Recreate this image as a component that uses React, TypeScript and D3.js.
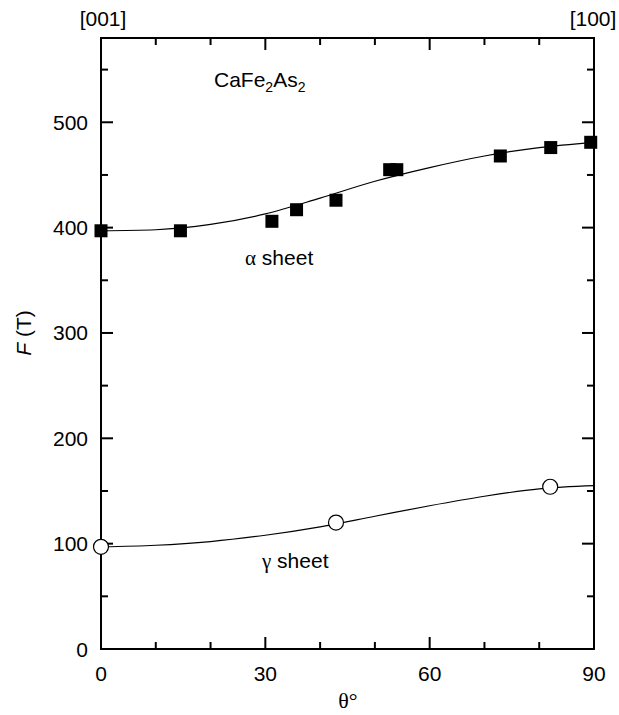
import * as d3 from "d3";
import { useEffect, useRef } from "react";

// measured points
const alphaTheta = [0, 14.5, 31.2, 35.7, 42.9, 52.7, 54.0, 72.9, 82.1, 89.4];
const alphaF = [397, 397, 406, 417, 426, 455, 455, 468, 476, 481];
const gammaTheta = [0, 42.9, 82.0];
const gammaF = [97, 120, 154];

// fit lines
const alphaFitTheta = [0, 10, 20, 30, 40, 50, 60, 70, 80, 90];
const alphaFitF = [397, 398, 403, 413, 428, 444, 457, 468, 476, 481];
const gammaFitTheta = [0, 10, 20, 30, 40, 50, 60, 70, 80, 90];
const gammaFitF = [97, 98.5, 102, 108, 116, 126, 136, 145, 152, 155];

const xTicks = [0, 30, 60, 90];
const yTicks = [0, 100, 200, 300, 400, 500];

function App() {
  const ref = useRef<SVGSVGElement>(null);

  useEffect(() => {
    const svg = d3.select(ref.current);
    svg.selectAll("*").remove();

    const left = 101, right = 594, top = 38, bottom = 649;
    const x = d3.scaleLinear().domain([0, 90]).range([left, right]);
    const y = d3.scaleLinear().domain([0, 580]).range([bottom, top]);
    const font = "Arial, 'Liberation Sans', sans-serif";
    const serif = "'Liberation Serif', 'Times New Roman', serif";
    const fs = 21;

    const g = svg.append("g");

    // minor + major ticks on all four sides, pointing inward
    const xMinor = d3.range(0, 91, 10);
    const yMinor = d3.range(0, 580, 50);
    xMinor.forEach(t => {
      const len = t % 30 === 0 ? 12 : 7;
      g.append("line").attr("x1", x(t)).attr("x2", x(t)).attr("y1", bottom).attr("y2", bottom - len)
        .attr("stroke", "black").attr("stroke-width", 2);
      g.append("line").attr("x1", x(t)).attr("x2", x(t)).attr("y1", top).attr("y2", top + len)
        .attr("stroke", "black").attr("stroke-width", 2);
    });
    yMinor.forEach(t => {
      const len = t % 100 === 0 ? 12 : 7;
      g.append("line").attr("x1", left).attr("x2", left + len).attr("y1", y(t)).attr("y2", y(t))
        .attr("stroke", "black").attr("stroke-width", 2);
      g.append("line").attr("x1", right).attr("x2", right - len).attr("y1", y(t)).attr("y2", y(t))
        .attr("stroke", "black").attr("stroke-width", 2);
    });

    g.append("rect").attr("x", left).attr("y", top).attr("width", right - left).attr("height", bottom - top)
      .attr("fill", "none").attr("stroke", "black").attr("stroke-width", 2);

    // tick labels
    g.selectAll(".xl").data(xTicks).join("text").attr("class", "xl")
      .attr("x", d => x(d)).attr("y", bottom + 32).attr("text-anchor", "middle")
      .attr("font-family", font).attr("font-size", fs).text(d => d);
    g.selectAll(".yl").data(yTicks).join("text").attr("class", "yl")
      .attr("x", left - 13).attr("y", d => y(d) + 7.5).attr("text-anchor", "end")
      .attr("font-family", font).attr("font-size", fs).text(d => d);

    // top direction labels
    g.append("text").attr("x", x(0) + 2).attr("y", 26).attr("text-anchor", "middle")
      .attr("font-family", font).attr("font-size", fs).text("[001]");
    g.append("text").attr("x", x(90) - 1).attr("y", 26).attr("text-anchor", "middle")
      .attr("font-family", font).attr("font-size", fs).text("[100]");

    // axis titles
    g.append("text").attr("x", 348).attr("y", 708).attr("text-anchor", "middle")
      .attr("font-family", serif).attr("font-size", 22).text("θ°");
    const yt = g.append("text").attr("transform", `translate(31, ${y(300)}) rotate(-90)`)
      .attr("text-anchor", "middle").attr("font-family", font).attr("font-size", 21);
    yt.append("tspan").attr("font-style", "italic").text("F");
    yt.append("tspan").text(" (T)");

    // fit lines
    const line = d3.line<[number, number]>().x(d => x(d[0])).y(d => y(d[1])).curve(d3.curveMonotoneX);
    g.append("path").attr("d", line(alphaFitTheta.map((t, i) => [t, alphaFitF[i]])))
      .attr("fill", "none").attr("stroke", "black").attr("stroke-width", 1.2);
    g.append("path").attr("d", line(gammaFitTheta.map((t, i) => [t, gammaFitF[i]])))
      .attr("fill", "none").attr("stroke", "black").attr("stroke-width", 1.2);

    // markers
    const sq = 13;
    g.selectAll(".sq").data(alphaTheta.map((t, i) => [t, alphaF[i]])).join("rect").attr("class", "sq")
      .attr("x", d => x(d[0]) - sq / 2).attr("y", d => y(d[1]) - sq / 2)
      .attr("width", sq).attr("height", sq).attr("fill", "black");
    g.selectAll(".ci").data(gammaTheta.map((t, i) => [t, gammaF[i]])).join("circle").attr("class", "ci")
      .attr("cx", d => x(d[0])).attr("cy", d => y(d[1])).attr("r", 7.5)
      .attr("fill", "white").attr("stroke", "black").attr("stroke-width", 1.2);

    // annotations
    const cf = g.append("text").attr("x", 214).attr("y", 87).attr("font-family", font).attr("font-size", fs);
    cf.append("tspan").text("CaFe");
    cf.append("tspan").attr("font-size", 14).attr("dy", 5).text("2");
    cf.append("tspan").attr("dy", -5).text("As");
    cf.append("tspan").attr("font-size", 14).attr("dy", 5).text("2");

    const a = g.append("text").attr("x", 245).attr("y", 265).attr("font-family", font).attr("font-size", fs);
    a.append("tspan").attr("font-family", serif).text("α");
    a.append("tspan").text(" sheet");
    const gm = g.append("text").attr("x", 262).attr("y", 568).attr("font-family", font).attr("font-size", fs);
    gm.append("tspan").attr("font-family", serif).text("γ");
    gm.append("tspan").text(" sheet");
  }, []);

  return <svg ref={ref} width={619} height={715} style={{ position: "absolute", left: 0, top: 0 }} />;
}

export default App;
